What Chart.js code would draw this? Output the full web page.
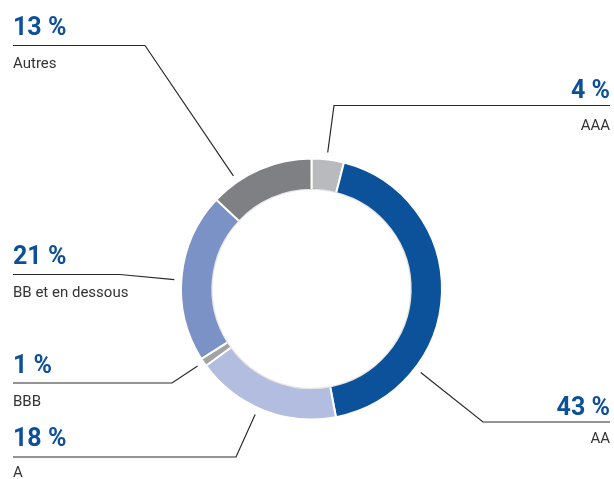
<!DOCTYPE html>
<html>
<head>
<meta charset="utf-8">
<script src="https://cdn.jsdelivr.net/npm/chart.js@4"></script>
<style>
  html, body { margin: 0; padding: 0; background: #fff; }
  #wrap { position: relative; width: 614px; height: 479px; }
</style>
</head>
<body>
<div id="wrap"><canvas id="ratingChart"></canvas></div>
<script>
// répartition par notation
const ratings = ["AAA", "AA", "A", "BBB", "BB et en dessous", "Autres"];
const shares = [4, 43, 18, 1, 21, 13];
const colors = ["#b9babd", "#0b529b", "#b3bddf", "#a2a3a5", "#7a92c6", "#7e8083"];

// placement des étiquettes (côté, ligne, coude, point d'attache sur l'arc)
const labelLayout = [
  { side: "right", lineY: 105.5, elbowX: 334, pctY: 98, nameY: 130, frac: 0.47 },
  { side: "right", lineY: 422, elbowX: 483, pctY: 415, nameY: 443, frac: 0.73 },
  { side: "left", lineY: 457, elbowX: 236, pctY: 446, nameY: 477, frac: 0.54 },
  { side: "left", lineY: 383, elbowX: 172, pctY: 373, nameY: 406, frac: 0.54 },
  { side: "left", lineY: 274.5, elbowX: 120, pctY: 264, nameY: 297, frac: 0.48 },
  { side: "left", lineY: 45.5, elbowX: 145, pctY: 35, nameY: 68, frac: 0.26 }
];

const leaders = {
  id: "leaders",
  afterDatasetsDraw(chart) {
    const ctx = chart.ctx;
    const arcs = chart.getDatasetMeta(0).data;
    const first = arcs[0].getProps(["x", "y", "innerRadius"], true);

    // léger liseré gris à l'intérieur de l'anneau
    ctx.save();
    ctx.beginPath();
    ctx.arc(first.x, first.y, first.innerRadius + 0.5, 0, Math.PI * 2);
    ctx.strokeStyle = "rgba(0,0,0,0.10)";
    ctx.lineWidth = 1.5;
    ctx.stroke();
    ctx.restore();

    arcs.forEach((arc, i) => {
      const p = arc.getProps(["x", "y", "startAngle", "endAngle", "outerRadius"], true);
      const L = labelLayout[i];
      const a = p.startAngle + L.frac * (p.endAngle - p.startAngle);
      const r = p.outerRadius + 7;
      const ax = p.x + r * Math.cos(a);
      const ay = p.y + r * Math.sin(a);
      const edgeX = L.side === "left" ? 13 : 610;

      ctx.save();
      ctx.beginPath();
      ctx.moveTo(edgeX, L.lineY);
      ctx.lineTo(L.elbowX, L.lineY);
      ctx.lineTo(ax, ay);
      ctx.strokeStyle = "#2a2a2a";
      ctx.lineWidth = 1.2;
      ctx.stroke();

      ctx.textAlign = L.side === "left" ? "left" : "right";
      ctx.textBaseline = "alphabetic";
      ctx.fillStyle = "#0d509a";
      ctx.font = "bold 25px Roboto";
      ctx.fillText(shares[i] + " %", edgeX, L.pctY);
      ctx.fillStyle = "#333333";
      ctx.font = "15px Roboto";
      ctx.fillText(ratings[i], edgeX, L.nameY);
      ctx.restore();
    });
  }
};

new Chart(document.getElementById("ratingChart"), {
  type: "doughnut",
  data: {
    labels: ratings,
    datasets: [{
      data: shares,
      backgroundColor: colors,
      borderColor: "#ffffff",
      borderWidth: 2
    }]
  },
  options: {
    responsive: true,
    maintainAspectRatio: false,
    animation: false,
    cutout: "76%",
    layout: { padding: { left: 180, right: 171, top: 157.5, bottom: 58.5 } },
    plugins: {
      legend: { display: false },
      tooltip: { enabled: false }
    }
  },
  plugins: [leaders]
});
</script>
</body>
</html>
